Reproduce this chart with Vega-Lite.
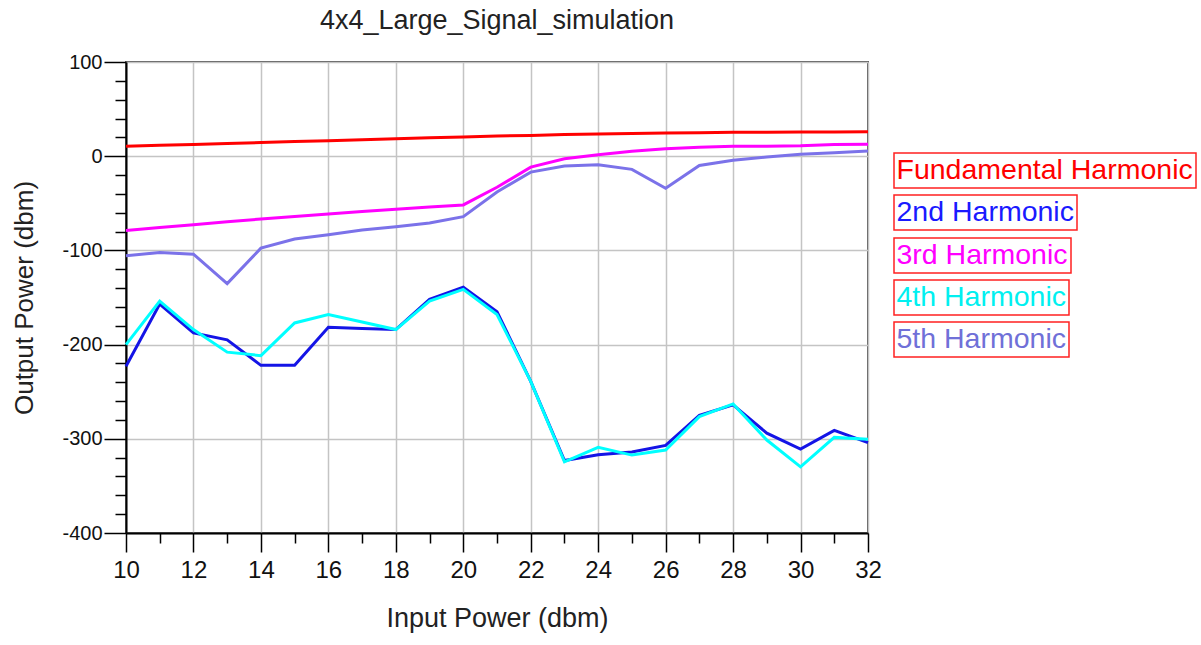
{
  "$schema": "https://vega.github.io/schema/vega-lite/v6.json",
  "width": 742,
  "height": 471,
  "autosize": {"type": "none"},
  "padding": {"left": 126, "top": 62, "right": 333, "bottom": 112},
  "background": "white",
  "title": {
    "text": "4x4_Large_Signal_simulation",
    "font": "Liberation Sans",
    "fontSize": 27,
    "fontWeight": "normal",
    "color": "#222222",
    "anchor": "middle",
    "frame": "group",
    "baseline": "alphabetic",
    "offset": -4
  },
  "config": {
    "view": {"stroke": "#555555", "strokeWidth": 2},
    "line": {"strokeWidth": 3},
    "legend": {
      "orient": "none",
      "symbolType": "circle",
      "symbolSize": 0,
      "symbolStrokeWidth": 0,
      "symbolOpacity": 0,
      "labelFont": "Liberation Sans",
      "labelFontSize": 28.5,
      "labelOffset": -29,
      "labelLimit": 400,
      "strokeColor": "#ff2020",
      "strokeWidth": 1.5,
      "fillColor": "white",
      "padding": 3
    }
  },
  "data": {
    "values": [
      {"p": 10, "s": "Fundamental Harmonic", "v": 10.5},
      {"p": 11, "s": "Fundamental Harmonic", "v": 11.5},
      {"p": 12, "s": "Fundamental Harmonic", "v": 12.5},
      {"p": 13, "s": "Fundamental Harmonic", "v": 13.5},
      {"p": 14, "s": "Fundamental Harmonic", "v": 14.5},
      {"p": 15, "s": "Fundamental Harmonic", "v": 15.5},
      {"p": 16, "s": "Fundamental Harmonic", "v": 16.5},
      {"p": 17, "s": "Fundamental Harmonic", "v": 17.5},
      {"p": 18, "s": "Fundamental Harmonic", "v": 18.5},
      {"p": 19, "s": "Fundamental Harmonic", "v": 19.5},
      {"p": 20, "s": "Fundamental Harmonic", "v": 20.5},
      {"p": 21, "s": "Fundamental Harmonic", "v": 21.5},
      {"p": 22, "s": "Fundamental Harmonic", "v": 22},
      {"p": 23, "s": "Fundamental Harmonic", "v": 23},
      {"p": 24, "s": "Fundamental Harmonic", "v": 23.5},
      {"p": 25, "s": "Fundamental Harmonic", "v": 24},
      {"p": 26, "s": "Fundamental Harmonic", "v": 24.5},
      {"p": 27, "s": "Fundamental Harmonic", "v": 25},
      {"p": 28, "s": "Fundamental Harmonic", "v": 25.3},
      {"p": 29, "s": "Fundamental Harmonic", "v": 25.5},
      {"p": 30, "s": "Fundamental Harmonic", "v": 25.7},
      {"p": 31, "s": "Fundamental Harmonic", "v": 25.8},
      {"p": 32, "s": "Fundamental Harmonic", "v": 26},
      {"p": 10, "s": "2nd Harmonic", "v": -223},
      {"p": 11, "s": "2nd Harmonic", "v": -157},
      {"p": 12, "s": "2nd Harmonic", "v": -187.6},
      {"p": 13, "s": "2nd Harmonic", "v": -195},
      {"p": 14, "s": "2nd Harmonic", "v": -222},
      {"p": 15, "s": "2nd Harmonic", "v": -222},
      {"p": 16, "s": "2nd Harmonic", "v": -181.5},
      {"p": 17, "s": "2nd Harmonic", "v": -183},
      {"p": 18, "s": "2nd Harmonic", "v": -184},
      {"p": 19, "s": "2nd Harmonic", "v": -152},
      {"p": 20, "s": "2nd Harmonic", "v": -139},
      {"p": 21, "s": "2nd Harmonic", "v": -165},
      {"p": 22, "s": "2nd Harmonic", "v": -239},
      {"p": 23, "s": "2nd Harmonic", "v": -323},
      {"p": 24, "s": "2nd Harmonic", "v": -317},
      {"p": 25, "s": "2nd Harmonic", "v": -314},
      {"p": 26, "s": "2nd Harmonic", "v": -307},
      {"p": 27, "s": "2nd Harmonic", "v": -275},
      {"p": 28, "s": "2nd Harmonic", "v": -264},
      {"p": 29, "s": "2nd Harmonic", "v": -294},
      {"p": 30, "s": "2nd Harmonic", "v": -311},
      {"p": 31, "s": "2nd Harmonic", "v": -291},
      {"p": 32, "s": "2nd Harmonic", "v": -304},
      {"p": 10, "s": "3rd Harmonic", "v": -79},
      {"p": 11, "s": "3rd Harmonic", "v": -75.8},
      {"p": 12, "s": "3rd Harmonic", "v": -72.7},
      {"p": 13, "s": "3rd Harmonic", "v": -69.7},
      {"p": 14, "s": "3rd Harmonic", "v": -66.7},
      {"p": 15, "s": "3rd Harmonic", "v": -64},
      {"p": 16, "s": "3rd Harmonic", "v": -61.3},
      {"p": 17, "s": "3rd Harmonic", "v": -58.8},
      {"p": 18, "s": "3rd Harmonic", "v": -56.4},
      {"p": 19, "s": "3rd Harmonic", "v": -54},
      {"p": 20, "s": "3rd Harmonic", "v": -51.7},
      {"p": 21, "s": "3rd Harmonic", "v": -33},
      {"p": 22, "s": "3rd Harmonic", "v": -11.6},
      {"p": 23, "s": "3rd Harmonic", "v": -2.7},
      {"p": 24, "s": "3rd Harmonic", "v": 1.6},
      {"p": 25, "s": "3rd Harmonic", "v": 5.2},
      {"p": 26, "s": "3rd Harmonic", "v": 8},
      {"p": 27, "s": "3rd Harmonic", "v": 9.4},
      {"p": 28, "s": "3rd Harmonic", "v": 10.5},
      {"p": 29, "s": "3rd Harmonic", "v": 10.5},
      {"p": 30, "s": "3rd Harmonic", "v": 11},
      {"p": 31, "s": "3rd Harmonic", "v": 12.3},
      {"p": 32, "s": "3rd Harmonic", "v": 12.6},
      {"p": 10, "s": "4th Harmonic", "v": -200},
      {"p": 11, "s": "4th Harmonic", "v": -153.8},
      {"p": 12, "s": "4th Harmonic", "v": -184},
      {"p": 13, "s": "4th Harmonic", "v": -208},
      {"p": 14, "s": "4th Harmonic", "v": -211.7},
      {"p": 15, "s": "4th Harmonic", "v": -177},
      {"p": 16, "s": "4th Harmonic", "v": -168},
      {"p": 17, "s": "4th Harmonic", "v": -176},
      {"p": 18, "s": "4th Harmonic", "v": -184},
      {"p": 19, "s": "4th Harmonic", "v": -153.8},
      {"p": 20, "s": "4th Harmonic", "v": -141.3},
      {"p": 21, "s": "4th Harmonic", "v": -168},
      {"p": 22, "s": "4th Harmonic", "v": -239},
      {"p": 23, "s": "4th Harmonic", "v": -324.4},
      {"p": 24, "s": "4th Harmonic", "v": -309},
      {"p": 25, "s": "4th Harmonic", "v": -317.3},
      {"p": 26, "s": "4th Harmonic", "v": -312},
      {"p": 27, "s": "4th Harmonic", "v": -276.4},
      {"p": 28, "s": "4th Harmonic", "v": -263},
      {"p": 29, "s": "4th Harmonic", "v": -301.3},
      {"p": 30, "s": "4th Harmonic", "v": -329.8},
      {"p": 31, "s": "4th Harmonic", "v": -298.5},
      {"p": 32, "s": "4th Harmonic", "v": -300.6},
      {"p": 10, "s": "5th Harmonic", "v": -105.8},
      {"p": 11, "s": "5th Harmonic", "v": -102.2},
      {"p": 12, "s": "5th Harmonic", "v": -104},
      {"p": 13, "s": "5th Harmonic", "v": -135.3},
      {"p": 14, "s": "5th Harmonic", "v": -97.6},
      {"p": 15, "s": "5th Harmonic", "v": -88},
      {"p": 16, "s": "5th Harmonic", "v": -83.4},
      {"p": 17, "s": "5th Harmonic", "v": -78.4},
      {"p": 18, "s": "5th Harmonic", "v": -74.8},
      {"p": 19, "s": "5th Harmonic", "v": -70.9},
      {"p": 20, "s": "5th Harmonic", "v": -64.2},
      {"p": 21, "s": "5th Harmonic", "v": -38},
      {"p": 22, "s": "5th Harmonic", "v": -16.9},
      {"p": 23, "s": "5th Harmonic", "v": -10.5},
      {"p": 24, "s": "5th Harmonic", "v": -9},
      {"p": 25, "s": "5th Harmonic", "v": -14},
      {"p": 26, "s": "5th Harmonic", "v": -34},
      {"p": 27, "s": "5th Harmonic", "v": -9.8},
      {"p": 28, "s": "5th Harmonic", "v": -4.4},
      {"p": 29, "s": "5th Harmonic", "v": -0.9},
      {"p": 30, "s": "5th Harmonic", "v": 2},
      {"p": 31, "s": "5th Harmonic", "v": 3.7},
      {"p": 32, "s": "5th Harmonic", "v": 5.5}
    ]
  },
  "layer": [
    {
      "transform": [{"filter": "datum.s === 'Fundamental Harmonic'"}],
      "mark": {"type": "line", "strokeWidth": 3},
      "encoding": {
        "x": {
          "field": "p", "type": "quantitative",
          "scale": {"domain": [10, 32], "nice": false, "zero": false},
          "axis": {
            "orient": "bottom",
            "title": "Input Power (dbm)",
            "values": [10, 12, 14, 16, 18, 20, 22, 24, 26, 28, 30, 32],
            "grid": true, "gridColor": "#c4c4c4", "gridWidth": 1.5,
            "domainColor": "#000000", "domainWidth": 2,
            "tickColor": "#000000", "tickWidth": 1.5, "tickSize": 19,
            "labelFont": "Liberation Sans Narrow, Liberation Sans", "labelFontSize": 24, "labelColor": "#111111",
            "labelPadding": 6, "labelFlush": false, "labelOverlap": false,
            "titleFont": "Liberation Sans", "titleFontSize": 27, "titleFontWeight": "normal", "titleColor": "#222222",
            "titlePadding": 23
          }
        },
        "y": {
          "field": "v", "type": "quantitative",
          "scale": {"domain": [-400, 100], "nice": false, "zero": false},
          "axis": {
            "orient": "left",
            "title": "Output Power (dbm)",
            "values": [-400, -300, -200, -100, 0, 100],
            "labelExpr": "'' + datum.value",
            "grid": true, "gridColor": "#c4c4c4", "gridWidth": 1.5,
            "domainColor": "#000000", "domainWidth": 2,
            "tickColor": "#000000", "tickWidth": 1.5, "tickSize": 22,
            "labelFont": "Liberation Sans", "labelFontSize": 20, "labelColor": "#111111",
            "labelPadding": 2, "labelFlush": false, "labelOverlap": false,
            "titleFont": "Liberation Sans", "titleFontSize": 26, "titleFontWeight": "normal", "titleColor": "#222222",
            "titlePadding": 24
          }
        },
        "color": {
          "field": "s", "type": "nominal",
          "scale": {"range": ["#ff0000"]},
          "legend": {"title": null, "legendX": 768, "legendY": 91, "labelColor": "#ff0000"}
        }
      }
    },
    {
      "transform": [{"filter": "datum.s === '2nd Harmonic'"}],
      "mark": {"type": "line", "strokeWidth": 3},
      "encoding": {
        "x": {
          "field": "p", "type": "quantitative",
          "scale": {"domain": [10, 32], "nice": false, "zero": false},
          "axis": {
            "orient": "bottom", "title": null,
            "values": [11, 13, 15, 17, 19, 21, 23, 25, 27, 29, 31],
            "grid": false, "domain": false, "labels": false,
            "tickColor": "#000000", "tickWidth": 1.5, "tickSize": 10
          }
        },
        "y": {
          "field": "v", "type": "quantitative",
          "scale": {"domain": [-400, 100], "nice": false, "zero": false},
          "axis": {
            "orient": "left", "title": null,
            "values": [-380, -360, -340, -320, -280, -260, -240, -220, -180, -160, -140, -120, -80, -60, -40, -20, 20, 40, 60, 80],
            "grid": false, "domain": false, "labels": false,
            "tickColor": "#000000", "tickWidth": 1.5, "tickSize": 11
          }
        },
        "color": {
          "field": "s", "type": "nominal",
          "scale": {"range": ["#1414e6"]},
          "legend": {"title": null, "legendX": 768, "legendY": 133, "labelColor": "#1a1aff"}
        }
      }
    },
    {
      "transform": [{"filter": "datum.s === '3rd Harmonic'"}],
      "mark": {"type": "line", "strokeWidth": 3},
      "encoding": {
        "x": {"field": "p", "type": "quantitative", "scale": {"domain": [10, 32], "nice": false, "zero": false}, "axis": null},
        "y": {"field": "v", "type": "quantitative", "scale": {"domain": [-400, 100], "nice": false, "zero": false}, "axis": null},
        "color": {
          "field": "s", "type": "nominal",
          "scale": {"range": ["#ff00ff"]},
          "legend": {"title": null, "legendX": 768, "legendY": 176, "labelColor": "#ff00ff"}
        }
      }
    },
    {
      "transform": [{"filter": "datum.s === '4th Harmonic'"}],
      "mark": {"type": "line", "strokeWidth": 3},
      "encoding": {
        "x": {"field": "p", "type": "quantitative", "scale": {"domain": [10, 32], "nice": false, "zero": false}, "axis": null},
        "y": {"field": "v", "type": "quantitative", "scale": {"domain": [-400, 100], "nice": false, "zero": false}, "axis": null},
        "color": {
          "field": "s", "type": "nominal",
          "scale": {"range": ["#00ffff"]},
          "legend": {"title": null, "legendX": 768, "legendY": 218, "labelColor": "#00f0f0"}
        }
      }
    },
    {
      "transform": [{"filter": "datum.s === '5th Harmonic'"}],
      "mark": {"type": "line", "strokeWidth": 3},
      "encoding": {
        "x": {"field": "p", "type": "quantitative", "scale": {"domain": [10, 32], "nice": false, "zero": false}, "axis": null},
        "y": {"field": "v", "type": "quantitative", "scale": {"domain": [-400, 100], "nice": false, "zero": false}, "axis": null},
        "color": {
          "field": "s", "type": "nominal",
          "scale": {"range": ["#7b72e9"]},
          "legend": {"title": null, "legendX": 768, "legendY": 260, "labelColor": "#7070d8"}
        }
      }
    }
  ],
  "resolve": {
    "scale": {"color": "independent"},
    "axis": {"x": "independent", "y": "independent"},
    "legend": {"color": "independent"}
  }
}
